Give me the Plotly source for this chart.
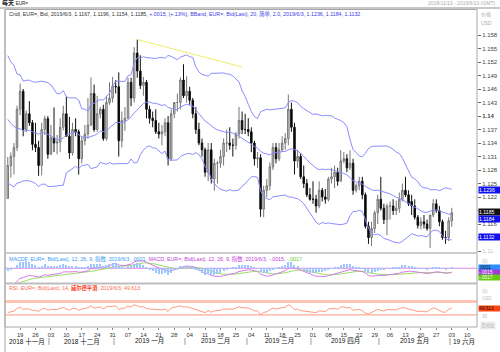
import numpy as np
import pandas as pd
import plotly.graph_objects as go

W, H = 500, 352

# ---------------- data (daily EUR= bars, 2018-11-13 .. 2019-06-03) ----------------
open_ = [1.1217,1.1290,1.1310,1.1330,1.1415,1.1455,1.1370,1.1405,1.1385,1.1337,
 1.1330,1.1290,1.1370,1.1394,1.1315,1.1352,1.1340,1.1342,1.1375,1.1405,
 1.1355,1.1318,1.1370,1.1365,1.1305,1.1345,1.1360,1.1380,1.1450,1.1370,
 1.1405,1.1415,1.1350,1.1430,1.1440,1.1466,1.1465,1.1345,1.1390,1.1395,
 1.1475,1.1440,1.1540,1.1500,1.1468,1.1475,1.1415,1.1395,1.1390,1.1365,
 1.1360,1.1365,1.1385,1.1305,1.1405,1.1430,1.1430,1.1480,1.1445,1.1455,
 1.1435,1.1405,1.1370,1.1340,1.1325,1.1275,1.1325,1.1260,1.1295,1.1295,
 1.1310,1.1340,1.1340,1.1335,1.1335,1.1360,1.1390,1.1370,1.1370,1.1365,
 1.1340,1.1305,1.1307,1.1193,1.1235,1.1245,1.1287,1.1330,1.1305,1.1325,
 1.1340,1.1350,1.1415,1.1375,1.1300,1.1310,1.1265,1.1250,1.1225,1.1215,
 1.1215,1.1200,1.1235,1.1220,1.1215,1.1260,1.1265,1.1275,1.1255,1.1300,
 1.1305,1.1285,1.1295,1.1235,1.1245,1.1255,1.1225,1.1155,1.1130,1.1150,
 1.1185,1.1215,1.1195,1.1170,1.1200,1.1200,1.1190,1.1195,1.1215,1.1235,
 1.1225,1.1210,1.1200,1.1175,1.1157,1.1165,1.1160,1.1150,1.1180,1.1205,
 1.1190,1.1165,1.1130,1.1130,1.1167]
high = [1.1309,1.1319,1.1340,1.1423,1.1472,1.1460,1.1412,1.1433,1.1391,1.1385,
 1.1345,1.1385,1.1401,1.1400,1.1380,1.1419,1.1358,1.1395,1.1423,1.1443,
 1.1398,1.1385,1.1395,1.1370,1.1355,1.1380,1.1440,1.1486,1.1470,1.1445,
 1.1420,1.1425,1.1445,1.1475,1.1487,1.1480,1.1497,1.1410,1.1420,1.1485,
 1.1485,1.1553,1.1570,1.1535,1.1487,1.1480,1.1423,1.1410,1.1415,1.1385,
 1.1380,1.1395,1.1400,1.1415,1.1430,1.1450,1.1486,1.1515,1.1488,1.1465,
 1.1440,1.1420,1.1385,1.1350,1.1330,1.1340,1.1340,1.1305,1.1300,1.1325,
 1.1350,1.1370,1.1375,1.1350,1.1365,1.1420,1.1410,1.1405,1.1395,1.1375,
 1.1345,1.1320,1.1315,1.1245,1.1260,1.1297,1.1340,1.1340,1.1340,1.1355,
 1.1362,1.1448,1.1430,1.1385,1.1325,1.1318,1.1290,1.1260,1.1240,1.1255,
 1.1225,1.1255,1.1240,1.1238,1.1265,1.1285,1.1290,1.1285,1.1324,1.1320,
 1.1315,1.1324,1.1305,1.1250,1.1265,1.1265,1.1230,1.1165,1.1165,1.1190,
 1.1225,1.1265,1.1205,1.1205,1.1210,1.1215,1.1212,1.1230,1.1250,1.1265,
 1.1235,1.1225,1.1215,1.1180,1.1175,1.1180,1.1170,1.1180,1.1215,1.1215,
 1.1200,1.1170,1.1145,1.1175,1.1196]
low = [1.1216,1.1263,1.1270,1.1322,1.1402,1.1355,1.1364,1.1378,1.1324,1.1320,
 1.1267,1.1268,1.1358,1.1305,1.1315,1.1320,1.1315,1.1320,1.1368,1.1355,
 1.1305,1.1312,1.1355,1.1270,1.1295,1.1335,1.1350,1.1378,1.1365,1.1365,
 1.1395,1.1345,1.1345,1.1425,1.1430,1.1450,1.1310,1.1330,1.1367,1.1395,
 1.1422,1.1430,1.1485,1.1460,1.1445,1.1395,1.1383,1.1375,1.1360,1.1350,
 1.1335,1.1355,1.1290,1.1300,1.1395,1.1410,1.1415,1.1440,1.1430,1.1425,
 1.1395,1.1360,1.1335,1.1310,1.1265,1.1255,1.1250,1.1234,1.1250,1.1285,
 1.1290,1.1320,1.1325,1.1310,1.1325,1.1350,1.1360,1.1360,1.1355,1.1320,
 1.1290,1.1285,1.1176,1.1175,1.1220,1.1235,1.1280,1.1295,1.1300,1.1320,
 1.1325,1.1335,1.1365,1.1270,1.1285,1.1260,1.1240,1.1220,1.1212,1.1205,
 1.1185,1.1195,1.1210,1.1205,1.1210,1.1250,1.1240,1.1245,1.1255,1.1295,
 1.1275,1.1280,1.1225,1.1230,1.1235,1.1215,1.1150,1.1116,1.1111,1.1140,
 1.1160,1.1190,1.1160,1.1135,1.1170,1.1180,1.1180,1.1185,1.1210,1.1220,
 1.1200,1.1180,1.1170,1.1150,1.1148,1.1150,1.1145,1.1107,1.1175,1.1185,
 1.1155,1.1125,1.1116,1.1122,1.1154]
close = [1.1290,1.1310,1.1330,1.1415,1.1455,1.1370,1.1405,1.1385,1.1337,1.1330,
 1.1290,1.1370,1.1394,1.1315,1.1352,1.1340,1.1342,1.1375,1.1405,1.1355,
 1.1318,1.1370,1.1365,1.1305,1.1345,1.1360,1.1380,1.1450,1.1370,1.1405,
 1.1415,1.1350,1.1430,1.1440,1.1466,1.1465,1.1345,1.1390,1.1395,1.1475,
 1.1440,1.1540,1.1500,1.1468,1.1475,1.1415,1.1395,1.1390,1.1365,1.1360,
 1.1365,1.1385,1.1305,1.1405,1.1430,1.1430,1.1480,1.1445,1.1455,1.1435,
 1.1405,1.1370,1.1340,1.1325,1.1275,1.1325,1.1260,1.1295,1.1295,1.1310,
 1.1340,1.1340,1.1335,1.1335,1.1360,1.1390,1.1370,1.1370,1.1365,1.1340,
 1.1305,1.1307,1.1193,1.1235,1.1245,1.1287,1.1330,1.1305,1.1325,1.1340,
 1.1350,1.1415,1.1375,1.1300,1.1310,1.1265,1.1250,1.1225,1.1215,1.1215,
 1.1200,1.1235,1.1220,1.1215,1.1260,1.1265,1.1275,1.1255,1.1300,1.1305,
 1.1285,1.1295,1.1235,1.1245,1.1255,1.1225,1.1155,1.1130,1.1150,1.1185,
 1.1215,1.1195,1.1170,1.1200,1.1200,1.1190,1.1195,1.1215,1.1235,1.1225,
 1.1205,1.1200,1.1175,1.1157,1.1165,1.1160,1.1150,1.1180,1.1205,1.1190,
 1.1165,1.1130,1.1130,1.1167,1.1185]
# closes before the visible window (implied by the starting indicator levels)
warmup_close = [1.1685,1.1665,1.1670,1.1775,1.1745,1.1750,1.1765,1.1740,1.1640,1.1605,
 1.1575,1.1545,1.1480,1.1515,1.1525,1.1490,1.1490,1.1520,1.1595,1.1560,
 1.1580,1.1575,1.1500,1.1450,1.1515,1.1465,1.1470,1.1390,1.1375,1.1400,
 1.1375,1.1345,1.1310,1.1405,1.1385,1.1405,1.1430,1.1430,1.1365,1.1335,
 1.1215]
trend_idx = [42, 76]
trend_val = [1.1570, 1.1509]
price_ticks = [1.110,1.113,1.116,1.119,1.122,1.125,1.128,1.131,1.134,1.137,
               1.140,1.143,1.146,1.149,1.152,1.155,1.158]
hidden_ticks = [1.113, 1.119]   # covered by the value boxes in the reference
cn_months = ["一月","二月","三月","四月","五月","六月","七月","八月","九月","十月","十一月","十二月"]

dates = pd.bdate_range("2018-11-13", "2019-06-03")
axis_dates = pd.bdate_range("2018-11-13", "2019-06-13")
n = len(close)
assert len(dates) == n == len(open_) == len(high) == len(low)
idx = np.arange(n)
X0, X1 = -0.9, 152.2

# ---------------- indicators ----------------
nw = len(warmup_close)
allc = pd.Series(warmup_close + close)
ma = allc.rolling(20).mean()
sd = allc.rolling(20).std(ddof=0)
bb_mid = ma.values[nw:]
bb_up = (ma + 2 * sd).values[nw:]
bb_lo = (ma - 2 * sd).values[nw:]
ema12 = allc.ewm(span=12, adjust=False).mean()
ema26 = allc.ewm(span=26, adjust=False).mean()
macd_all = ema12 - ema26
sig_all = macd_all.ewm(span=9, adjust=False).mean()
macd = macd_all.values[nw:]
sig = sig_all.values[nw:]
hist = macd - sig
d = allc.diff()
ag = d.clip(lower=0).ewm(alpha=1 / 14, adjust=False).mean()
al = (-d.clip(upper=0)).ewm(alpha=1 / 14, adjust=False).mean()
rsi = (100 - 100 / (1 + ag / al)).values[nw:]

FONT = "Arial, 'Liberation Sans', 'Noto Sans CJK SC', sans-serif"

def px(x):
    return x / W

def py(y):
    return 1 - y / H

fig = go.Figure()
for band in (bb_up, bb_mid, bb_lo):
    fig.add_trace(go.Scatter(x=idx, y=band, mode="lines", line=dict(color="#8c8cff", width=1), yaxis="y"))
fig.add_trace(go.Candlestick(x=idx, open=open_, high=high, low=low, close=close,
                             increasing=dict(line=dict(color="#777777", width=1), fillcolor="#cfcfcf"),
                             decreasing=dict(line=dict(color="#111111", width=1), fillcolor="#000000"),
                             whiskerwidth=0, yaxis="y"))
fig.add_trace(go.Scatter(x=trend_idx, y=trend_val, mode="lines", line=dict(color="#eeee66", width=1), yaxis="y"))

# MACD panel
fig.add_trace(go.Bar(x=idx, y=hist, marker=dict(color="#9cc6ff", line=dict(width=0)), width=0.35, yaxis="y4"))
fig.add_trace(go.Scatter(x=[X0, X1], y=[0, 0], mode="lines", line=dict(color="#dd88ee", width=1), yaxis="y2"))
fig.add_trace(go.Scatter(x=idx, y=sig, mode="lines", line=dict(color="#99dd66", width=1), yaxis="y2"))
fig.add_trace(go.Scatter(x=idx, y=macd, mode="lines", line=dict(color="#d67ae8", width=1), yaxis="y2"))

# RSI panel
fig.add_trace(go.Scatter(x=[X0, X1], y=[70, 70], mode="lines", line=dict(color="#ffc4b4", width=3), yaxis="y3"))
fig.add_trace(go.Scatter(x=[X0, X1], y=[30, 30], mode="lines", line=dict(color="#ffab98", width=1.2), yaxis="y3"))
fig.add_trace(go.Scatter(x=idx, y=rsi, mode="lines", line=dict(color="#ff9a7c", width=1), yaxis="y3"))

# x-axis ticks (Mondays)
mon = [i for i, dt in enumerate(axis_dates) if dt.weekday() == 0]
mon_txt = [axis_dates[i].strftime("%d") for i in mon]

annotations = []
groups = {}
for i, dt in enumerate(axis_dates):
    groups.setdefault((dt.year, dt.month), []).append(i)
keys = list(groups.keys())
bounds = [X0] + [(groups[keys[k]][-1] + groups[keys[k + 1]][0]) / 2 for k in range(len(keys) - 1)] + [X1]
for k, (yr, mo) in enumerate(keys):
    c = (bounds[k] + bounds[k + 1]) / 2
    txt = f"{yr} {cn_months[mo - 1]}" if k < len(keys) - 1 else f"{yr % 100} {cn_months[mo - 1]}"
    annotations.append(dict(x=c, xref="x", y=py(341), yref="paper", text=txt, showarrow=False,
                            font=dict(size=6.5, color="#111", family=FONT), xanchor="center", yanchor="middle"))
for b in bounds[1:-1]:
    annotations.append(dict(x=b, xref="x", y=py(341), yref="paper", text="|", showarrow=False,
                            font=dict(size=7, color="#555", family=FONT), xanchor="center", yanchor="middle"))

def label(x, y, text, size=5.5, color="#222", xanchor="left", bg=None, width=None, height=None):
    a = dict(x=px(x), y=py(y), xref="paper", yref="paper", text=text, showarrow=False,
             font=dict(size=size, color=color, family=FONT), xanchor=xanchor, yanchor="middle",
             borderpad=0)
    if bg:
        a["bgcolor"] = bg
    if width:
        a["width"] = width
        a["align"] = "left"
    if height:
        a["height"] = height
    return a

annotations += [
    label(1, 3.5, "<b>每天</b> <span style='font-size:4.5px'>EUR=</span>", size=6, color="#111"),
    label(497, 3.5, "2018/11/13 - 2019/6/13 (GMT)", size=5, color="#aaa", xanchor="right"),
    label(8, 14, "<span style='color:#333'>Cndl, EUR=, Bid, 2019/6/3, 1.1167, 1.1196, 1.1154, 1.1185, </span>"
                 "<span style='color:#3a3ae8'>+.0015, (+.13%), BBand, EUR=, Bid(Last), 20, 简单, 2.0, 2019/6/3, 1.1236, 1.1184, 1.1132</span>",
          size=5.3),
    label(8, 258.5, "<span style='color:#3a9bf0'>MACDF, EUR=, Bid(Last), 12, 26, 9, 指数, 2019/6/3, .0001, </span>"
                    "<span style='color:#c040d8'>MACD, EUR=, Bid(Last), 12, 26, 9, 指数, 2019/6/3, -.0015, </span>"
                    "<span style='color:#66cc22'>-.0017</span>", size=5.3),
    label(8, 287.5, "<span style='color:#ff6a4a'>RSI, EUR=, Bid(Last), 14, </span><b style='color:#ff3a1a'>威尔德平滑</b>"
                    "<span style='color:#ff6a4a'>, 2019/6/3, 49.613</span>", size=5.3),
    label(480, 15, "价格", size=5, color="#aaa"),
    label(480, 23, "USD", size=5, color="#aaa"),
    label(478, 189.8, "1.1236", size=5.2, color="white", bg="#1010ee", width=22, height=6),
    label(478, 212.5, "1.1185", size=5.2, color="white", bg="#111111", width=22, height=6),
    label(478, 219.0, "1.1184", size=5.2, color="white", bg="#1010ee", width=22, height=6),
    label(478, 236.6, "1.1132", size=5.2, color="white", bg="#1010ee", width=22, height=6),
    label(481, 261.5, "(0)", size=4.5, color="#bbb"),
    label(478, 267.8, ".0001", size=4.8, color="#111", bg="#2a90ff", width=22, height=5),
    label(478, 272.6, "-.0015", size=4.8, color="white", bg="#a03ad8", width=22, height=5),
    label(478, 277.8, "-.0017", size=4.8, color="white", bg="#66cc11", width=22, height=5),
    label(481, 291, "(0)", size=4.5, color="#bbb"),
    label(481, 298, "USD", size=4.5, color="#bbb"),
    label(478, 308, "49.613", size=4.8, color="#111", bg="#ff4411", width=22, height=5),
    label(481, 316, "30", size=4.5, color="#bbb"),
    label(480, 325, "百分比", size=4.5, color="#aaa", bg="#eeeeee"),
]

shapes = [
    dict(type="line", xref="paper", yref="paper", x0=0, x1=1, y0=py(8), y1=py(8), line=dict(color="#c8c8c8", width=2)),
    dict(type="rect", xref="paper", yref="paper", x0=px(5), x1=px(477), y0=py(327), y1=py(9.5), line=dict(color="#a8a8a8", width=1)),
    dict(type="line", xref="paper", yref="paper", x0=px(5), x1=px(5), y0=0, y1=py(9.5), line=dict(color="#a8a8a8", width=1)),
    dict(type="line", xref="paper", yref="paper", x0=px(5), x1=px(477), y0=py(253), y1=py(253), line=dict(color="#bdbdbd", width=1.5)),
    dict(type="line", xref="paper", yref="paper", x0=px(5), x1=px(477), y0=py(283.5), y1=py(283.5), line=dict(color="#bdbdbd", width=2)),
]

price_txt = []
for v in price_ticks:
    if abs(v - 1.140) < 1e-9:
        price_txt.append("<b>1.14</b>")
    elif abs(v - 1.110) < 1e-9:
        price_txt.append("<span style='color:#c8c8c8'>1.11</span>")
    elif any(abs(v - h) < 1e-9 for h in hidden_ticks):
        price_txt.append("")
    else:
        price_txt.append(f"{v:.3f}")

fig.update_layout(
    width=W, height=H, margin=dict(l=0, r=0, t=0, b=0),
    paper_bgcolor="white", plot_bgcolor="white", showlegend=False,
    font=dict(family=FONT, size=6, color="#333"),
    bargap=0,
    xaxis=dict(domain=[px(5), px(477)], range=[X0, X1], anchor="y3",
               tickmode="array", tickvals=mon, ticktext=mon_txt, ticks="outside", ticklen=2,
               tickcolor="#888", tickfont=dict(size=5.8, color="#333"),
               showgrid=False, zeroline=False, showline=False, rangeslider=dict(visible=False)),
    yaxis=dict(domain=[py(253), py(9.5)], range=[1.10956, 1.16367], anchor="x", side="right",
               tickmode="array", tickvals=price_ticks, ticktext=price_txt, ticks="outside", ticklen=3,
               tickcolor="#666", tickfont=dict(size=6, color="#444"),
               showgrid=False, zeroline=False, showline=False),
    yaxis2=dict(domain=[py(283.5), py(253)], range=[-0.0058, 0.0058], anchor="x", side="right",
                showticklabels=False, ticks="", showgrid=False, zeroline=False),
    yaxis4=dict(domain=[py(283.5), py(253)], range=[-0.0035, 0.0035], anchor="x", overlaying="y2",
                side="right", showticklabels=False, ticks="", showgrid=False, zeroline=False),
    yaxis3=dict(domain=[py(327), py(283.5)], range=[-7, 125], anchor="x", side="right",
                showticklabels=False, ticks="", showgrid=False, zeroline=False),
    annotations=annotations, shapes=shapes,
)

fig.write_html("out.html")
